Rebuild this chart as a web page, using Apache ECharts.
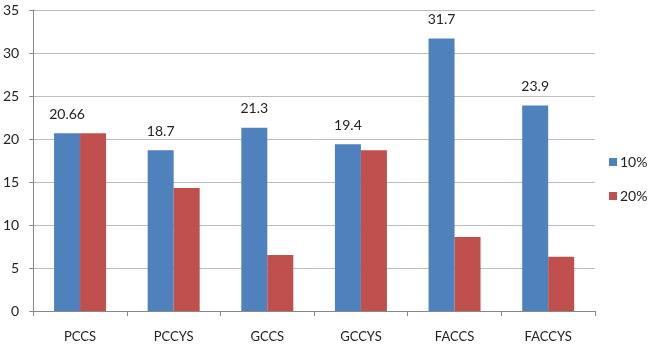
<!DOCTYPE html>
<html>
<head>
<meta charset="utf-8">
<script src="https://cdn.jsdelivr.net/npm/echarts@6/dist/echarts.min.js"></script>
<style>
  html, body { margin: 0; padding: 0; background: #fff; }
  #chart { width: 653px; height: 346px; }
</style>
</head>
<body>
<div id="chart"></div>
<script>
// data
var categories = ['PCCS', 'PCCYS', 'GCCS', 'GCCYS', 'FACCS', 'FACCYS'];
var values10 = [20.66, 18.7, 21.3, 19.4, 31.7, 23.9];
var values20 = [20.66, 14.3, 6.5, 18.7, 8.6, 6.3];
var seriesNames = ['10%', '20%'];

var font = 'Lato, "Liberation Sans", sans-serif';

var myChart = echarts.init(document.getElementById('chart'));
var option = {
  animation: false,
  textStyle: { fontFamily: font },
  grid: { left: 31, right: 58, top: 10, bottom: 35, containLabel: false },
  legend: {
    orient: 'vertical',
    left: 604,
    top: 150,
    itemWidth: 8,
    itemHeight: 8,
    itemGap: 20,
    icon: 'rect',
    textStyle: { fontSize: 14, color: '#222', fontFamily: font, padding: [0, 0, 0, -2] },
    data: seriesNames
  },
  xAxis: {
    type: 'category',
    data: categories,
    axisLine: { lineStyle: { color: '#888', width: 1 } },
    axisTick: { show: true, length: 5, lineStyle: { color: '#888' } },
    axisLabel: { color: '#222', fontSize: 13, margin: 19, fontFamily: font }
  },
  yAxis: {
    type: 'value',
    min: 0,
    max: 35,
    interval: 5,
    axisLine: { show: true, lineStyle: { color: '#888', width: 1 } },
    axisTick: { show: true, length: 4, lineStyle: { color: '#888' } },
    axisLabel: { color: '#222', fontSize: 14, margin: 14, fontFamily: font },
    splitLine: { lineStyle: { color: '#bdbdbd', width: 1 } }
  },
  series: [
    {
      name: seriesNames[0],
      type: 'bar',
      data: values10,
      barWidth: 26,
      barGap: '0%',
      itemStyle: { color: '#4f81bd' },
      label: {
        show: true,
        position: 'top',
        distance: 12,
        color: '#222',
        fontSize: 14,
        fontFamily: font
      }
    },
    {
      name: seriesNames[1],
      type: 'bar',
      data: values20,
      barWidth: 26,
      barGap: '0%',
      itemStyle: { color: '#c0504d' }
    }
  ]
};
myChart.setOption(option);
window.onresize = myChart.resize;
</script>
</body>
</html>
